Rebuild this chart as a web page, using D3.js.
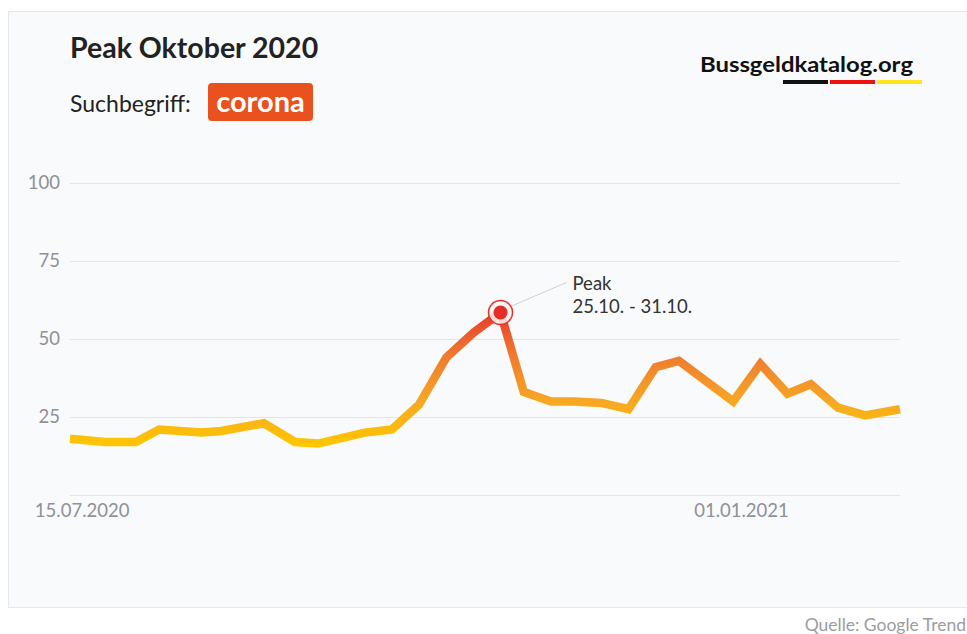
<!DOCTYPE html>
<html>
<head>
<meta charset="utf-8">
<style>
  body { margin: 0; background: #fff; }
  #trendChart text { font-family: Lato, "Open Sans", sans-serif; }
</style>
</head>
<body>
<div id="trendChart"></div>

<script src="https://d3js.org/d3.v7.min.js"></script>

<script>
// data (Google Trends, search term "corona")
var dates = ["12.07.2020","21.07.2020","29.07.2020","04.08.2020","15.08.2020","20.08.2020",
             "31.08.2020","08.09.2020","14.09.2020","26.09.2020","03.10.2020","10.10.2020",
             "17.10.2020","24.10.2020","31.10.2020","06.11.2020","13.11.2020","19.11.2020",
             "26.11.2020","03.12.2020","10.12.2020","16.12.2020","30.12.2020","06.01.2021",
             "13.01.2021","19.01.2021","26.01.2021","02.02.2021","11.02.2021"];
var values = [18, 17, 17, 21, 20, 20.5,
              23, 17, 16.5, 20, 21, 29,
              44, 52, 58.5, 33, 30, 30,
              29.5, 27.5, 41, 43, 30, 42,
              32.5, 35.5, 28, 25.5, 27.5];
var yTicks = [25, 50, 75, 100];
var xTickLabels = ["15.07.2020", "01.01.2021"];
var peakLabel = ["Peak", "25.10. - 31.10."];
var title = "Peak Oktober 2020";
var searchTerm = "corona";
var source = "Quelle: Google Trend";

var parseDate = d3.timeParse("%d.%m.%Y");

var W = 967, H = 634;
var margin = {top: 183, right: 67, bottom: 139, left: 70},
    width = W - margin.left - margin.right,
    height = H - margin.top - margin.bottom;

var svg = d3.select("#trendChart")
  .append("svg")
    .attr("width", W)
    .attr("height", H);

// card background
svg.append("rect")
    .attr("x", 8.5).attr("y", 11.5)
    .attr("width", 960).attr("height", 596)
    .attr("fill", "#f9fafb")
    .attr("stroke", "#e6e7e9");

// header
svg.append("text")
    .attr("x", 70).attr("y", 58)
    .attr("font-size", 28.5).attr("font-weight", 700)
    .attr("fill", "#222")
    .text(title);

svg.append("text")
    .attr("x", 70).attr("y", 112)
    .attr("font-size", 23)
    .attr("fill", "#222")
    .text("Suchbegriff:");

svg.append("rect")
    .attr("x", 208).attr("y", 83)
    .attr("width", 105).attr("height", 38)
    .attr("rx", 4)
    .attr("fill", "#e9511e");
svg.append("text")
    .attr("x", 260.5).attr("y", 112)
    .attr("text-anchor", "middle")
    .attr("font-size", 29).attr("font-weight", 700)
    .attr("fill", "#fff")
    .text(searchTerm);

// logo
svg.append("text")
    .attr("x", 700).attr("y", 72)
    .attr("font-size", 21).attr("font-weight", 700)
    .attr("textLength", 213).attr("lengthAdjust", "spacingAndGlyphs")
    .attr("fill", "#111")
    .text("Bussgeldkatalog.org");
var flag = ["#111111", "#ee1111", "#ffe61c"];
svg.selectAll(".flag")
  .data(flag)
  .enter()
  .append("rect")
    .attr("x", function(d, i) { return 783 + i * 47; })
    .attr("y", 80)
    .attr("width", 45).attr("height", 4)
    .attr("fill", function(d) { return d; });

var g = svg.append("g")
    .attr("transform", "translate(" + margin.left + "," + margin.top + ")");

var x = d3.scaleTime()
    .domain([parseDate("12.07.2020"), parseDate("11.02.2021")])
    .range([0, width]);

var y = d3.scaleLinear()
    .domain([0, 100])
    .range([height, 0]);

// gridlines + y labels
g.append("g")
    .call(d3.axisLeft(y).tickValues([0].concat(yTicks)).tickSize(-width).tickPadding(10))
    .call(function(ax) {
      ax.select(".domain").remove();
      ax.selectAll(".tick line").attr("stroke", "#e3e4e6");
      ax.selectAll(".tick text")
        .attr("fill", "#8e9196")
        .attr("font-size", 18.5)
        .attr("x", -10)
        .text(function(d) { return d === 0 ? "" : d; });
    });

// x labels
g.append("g")
    .attr("transform", "translate(0," + height + ")")
    .call(d3.axisBottom(x).tickValues(xTickLabels.map(parseDate)).tickSize(0).tickPadding(9)
      .tickFormat(d3.timeFormat("%d.%m.%Y")))
    .call(function(ax) {
      ax.select(".domain").remove();
      ax.selectAll(".tick text").attr("fill", "#8e9196").attr("font-size", 18.5);
    });

// line gradient, yellow at the bottom to red at the top
var grad = svg.append("defs").append("linearGradient")
    .attr("id", "lineGrad")
    .attr("gradientUnits", "userSpaceOnUse")
    .attr("x1", 0).attr("x2", 0)
    .attr("y1", y(15)).attr("y2", y(60));
grad.append("stop").attr("offset", "0%").attr("stop-color", "#ffc800");
grad.append("stop").attr("offset", "33%").attr("stop-color", "#f7a822");
grad.append("stop").attr("offset", "66%").attr("stop-color", "#ef7a31");
grad.append("stop").attr("offset", "100%").attr("stop-color", "#e6352b");

var points = dates.map(function(d, i) { return [parseDate(d), values[i]]; });

g.append("path")
    .datum(points)
    .attr("fill", "none")
    .attr("stroke", "url(#lineGrad)")
    .attr("stroke-width", 8.5)
    .attr("stroke-linejoin", "miter")
    .attr("d", d3.line()
        .x(function(d) { return x(d[0]); })
        .y(function(d) { return y(d[1]); }));

// peak marker
var peak = points[d3.maxIndex(points, function(d) { return d[1]; })];
var px = x(peak[0]), py = y(peak[1]);

g.append("line")
    .attr("x1", px + 10).attr("y1", py - 6)
    .attr("x2", px + 66).attr("y2", py - 30)
    .attr("stroke", "#cfd0d2").attr("stroke-width", 1);
g.append("circle")
    .attr("cx", px).attr("cy", py).attr("r", 12)
    .attr("fill", "#fdf3f2").attr("fill-opacity", 0.85)
    .attr("stroke", "#e8302a").attr("stroke-width", 1.5);
g.append("circle")
    .attr("cx", px).attr("cy", py).attr("r", 7)
    .attr("fill", "#e52d2a");

g.append("text")
    .attr("x", px + 72).attr("y", py - 22)
    .attr("font-size", 18.5).attr("fill", "#333")
    .selectAll("tspan")
    .data(peakLabel)
    .enter()
    .append("tspan")
      .attr("x", px + 72)
      .attr("dy", function(d, i) { return i ? 23 : 0; })
      .text(function(d) { return d; });

// source
svg.append("text")
    .attr("x", 966).attr("y", 631)
    .attr("text-anchor", "end")
    .attr("font-size", 17.5).attr("fill", "#9a9da1")
    .text(source);
</script>
</body>
</html>
